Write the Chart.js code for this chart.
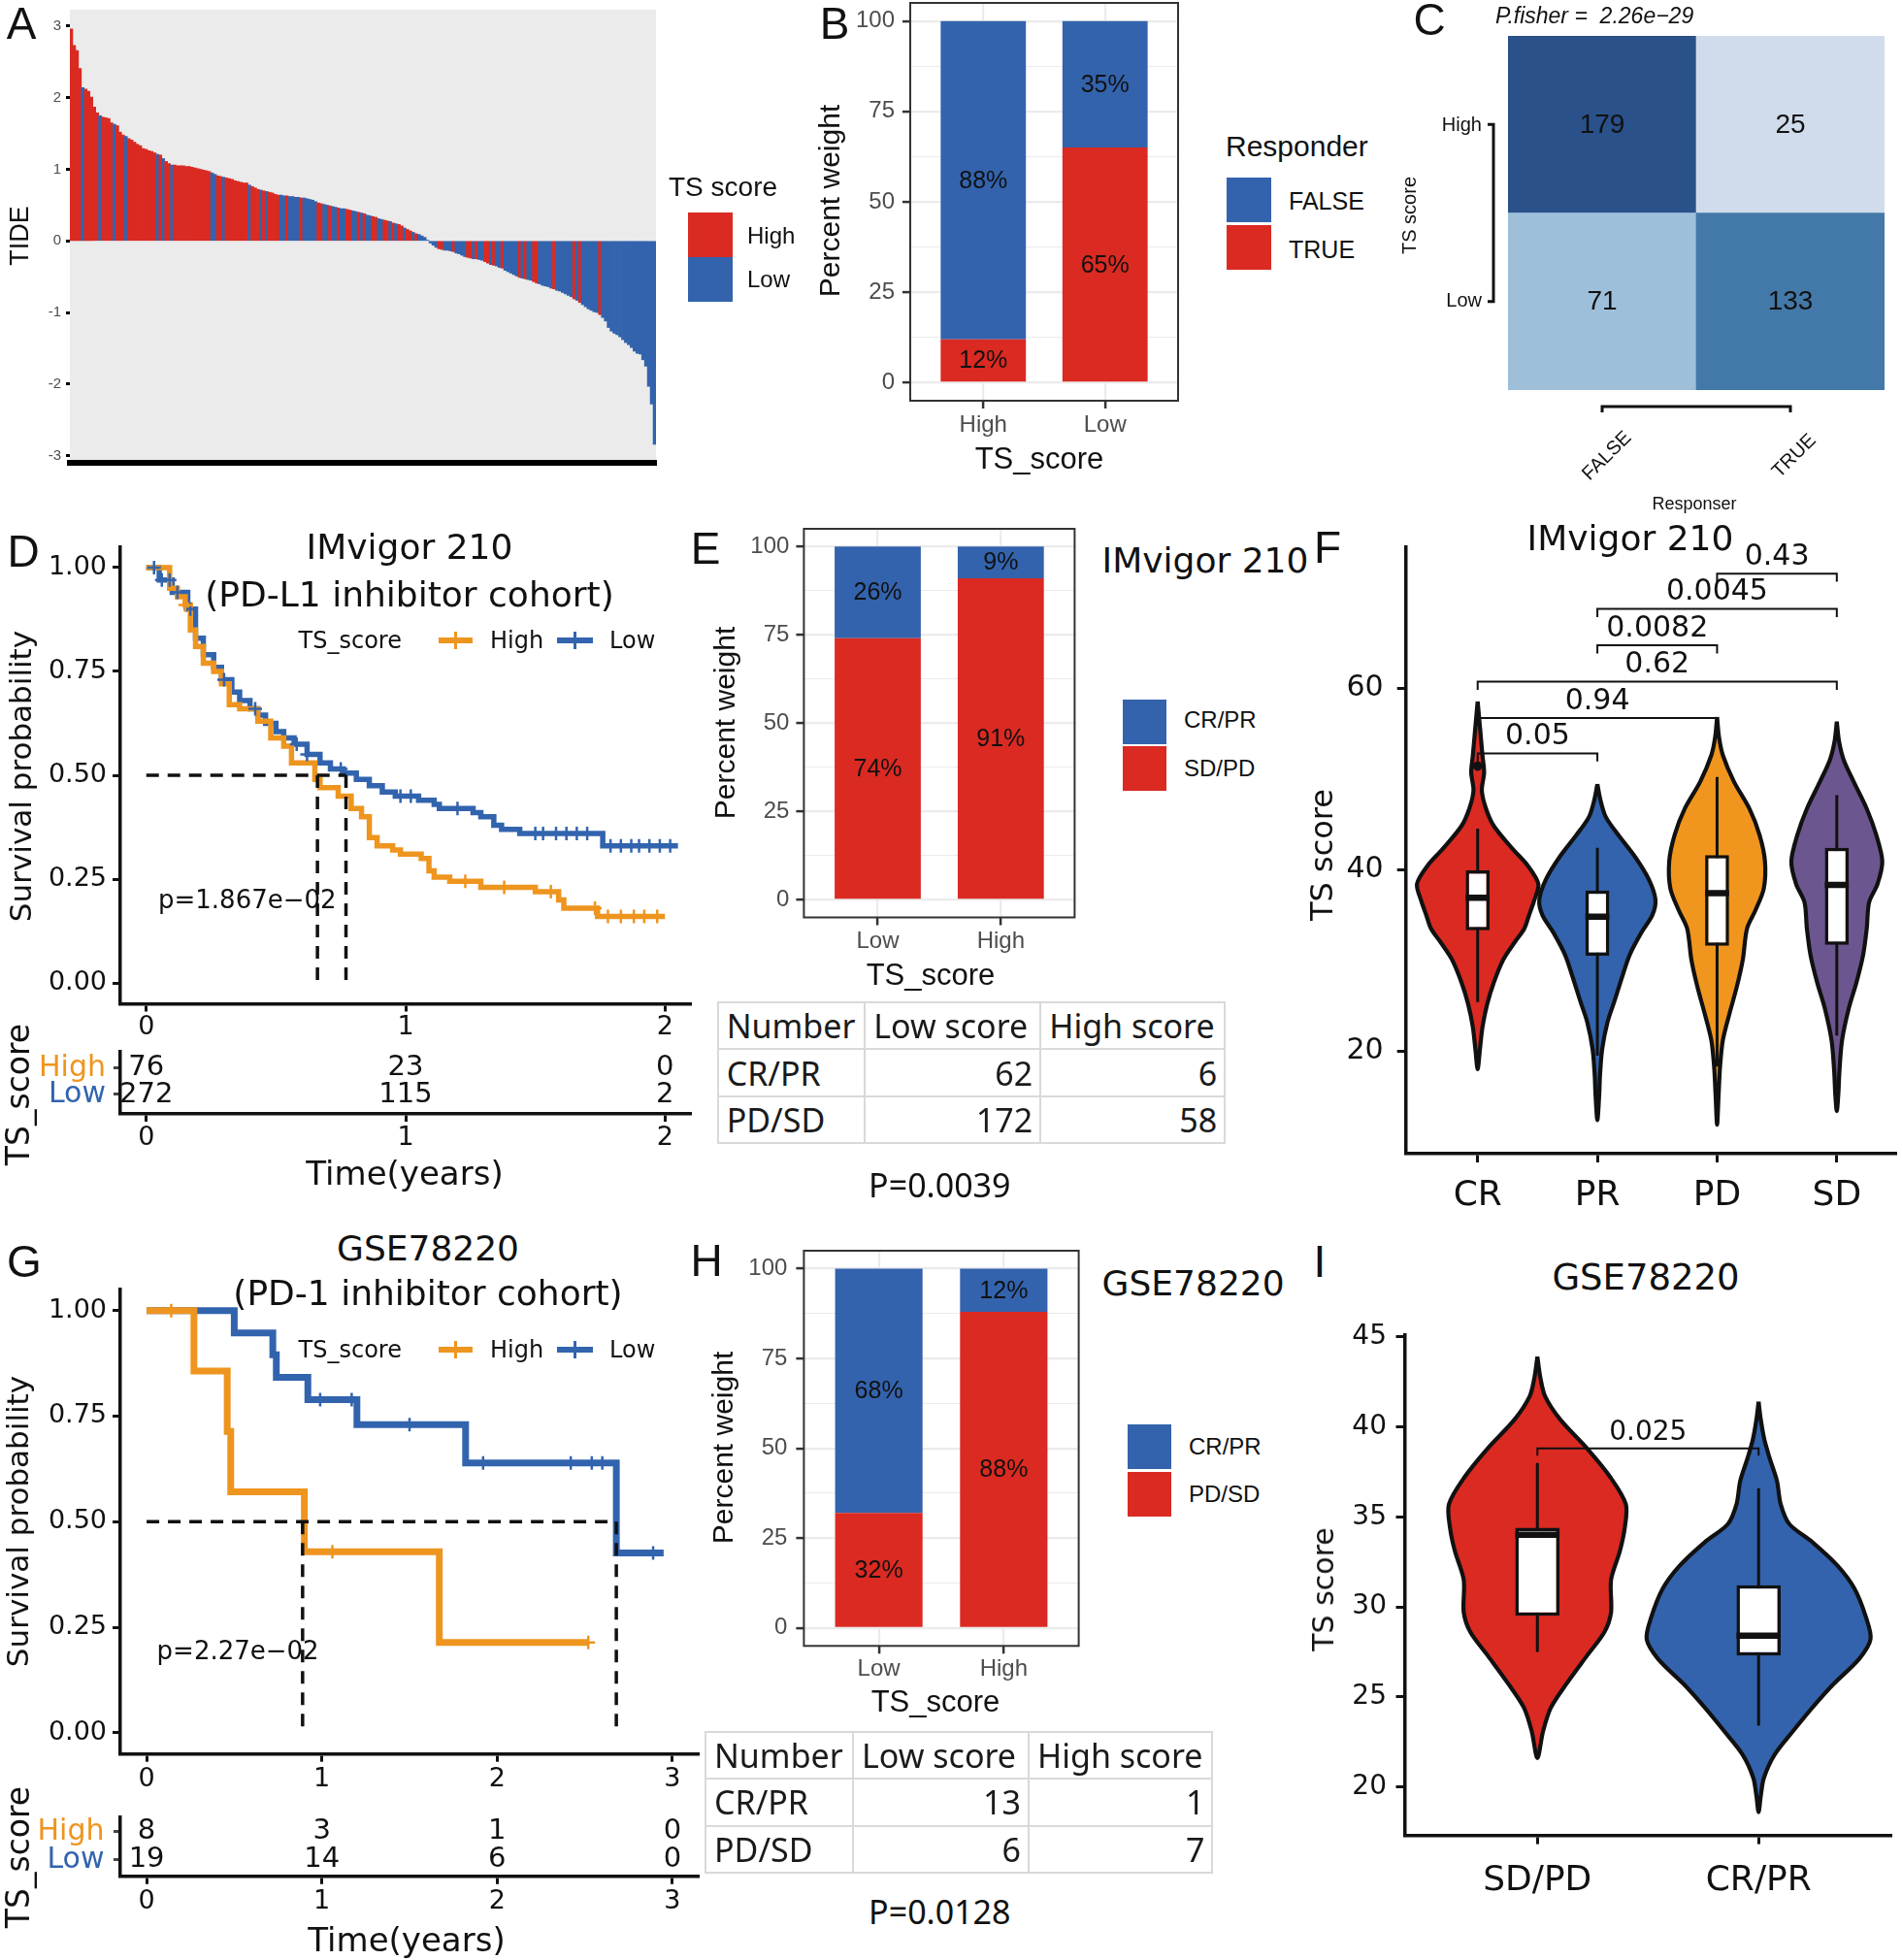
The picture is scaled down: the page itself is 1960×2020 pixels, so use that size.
<!DOCTYPE html>
<html>
<head>
<meta charset="utf-8">
<title>TS score figure</title>
<script src="https://cdn.jsdelivr.net/npm/chart.js@4.4.1/dist/chart.umd.min.js"></script>
<style>
  html, body { margin: 0; padding: 0; background: #fff; }
  #fig { position: relative; width: 1960px; height: 2020px; overflow: hidden; background: #fff; }
  #fig canvas { position: absolute; }
  .lbl { position: absolute; white-space: pre; line-height: 1; color: #111; }
  .sw { position: absolute; }
  table.tb { position: absolute; border-collapse: collapse; table-layout: fixed;
    font-family: "Noto Sans", "Liberation Sans", sans-serif; font-size: 34px; color: #1a1a1a; }
  table.tb td { border: 2px solid #d9d9d9; padding: 0 7px 0 8px; line-height: 1; white-space: nowrap;
    overflow: hidden; vertical-align: middle; }
</style>
</head>
<body>
<div id="fig"></div>
<script>
// ---------- A: TIDE waterfall, sorted samples ----------
const tideValues = [
  2.96, 2.73, 2.66, 2.41, 2.14, 2.12, 2.09, 2.01, 1.87, 1.79,
  1.75, 1.73, 1.72, 1.71, 1.65, 1.63, 1.61, 1.52, 1.48, 1.46,
  1.43, 1.41, 1.38, 1.35, 1.33, 1.29, 1.28, 1.26, 1.25, 1.23,
  1.21, 1.20, 1.15, 1.11, 1.08, 1.06, 1.06, 1.05, 1.05, 1.05,
  1.04, 1.04, 1.03, 1.02, 1.01, 1.00, 0.99, 0.98, 0.97, 0.95,
  0.93, 0.91, 0.90, 0.89, 0.88, 0.87, 0.86, 0.84, 0.83, 0.82,
  0.81, 0.81, 0.78, 0.76, 0.74, 0.72, 0.71, 0.70, 0.69, 0.68,
  0.67, 0.65, 0.64, 0.64, 0.63, 0.63, 0.62, 0.62, 0.61, 0.61,
  0.60, 0.60, 0.59, 0.58, 0.57, 0.55, 0.53, 0.52, 0.51, 0.50,
  0.49, 0.48, 0.47, 0.46, 0.45, 0.45, 0.44, 0.43, 0.42, 0.41,
  0.40, 0.39, 0.38, 0.36, 0.35, 0.34, 0.33, 0.31, 0.30, 0.29,
  0.28, 0.27, 0.25, 0.24, 0.23, 0.21, 0.18, 0.16, 0.14, 0.12,
  0.10, 0.09, 0.07, 0.05, 0.01, -0.03, -0.06, -0.09, -0.11, -0.12,
  -0.13, -0.13, -0.14, -0.15, -0.17, -0.18, -0.20, -0.22, -0.23, -0.24,
  -0.25, -0.25, -0.26, -0.27, -0.29, -0.31, -0.33, -0.34, -0.35, -0.37,
  -0.38, -0.41, -0.43, -0.45, -0.47, -0.49, -0.51, -0.52, -0.53, -0.54,
  -0.55, -0.57, -0.59, -0.60, -0.62, -0.63, -0.64, -0.66, -0.67, -0.69,
  -0.70, -0.72, -0.74, -0.76, -0.78, -0.81, -0.83, -0.86, -0.89, -0.92,
  -0.95, -0.97, -0.99, -1.00, -1.03, -1.07, -1.12, -1.21, -1.26, -1.29,
  -1.31, -1.34, -1.38, -1.42, -1.45, -1.49, -1.54, -1.57, -1.58, -1.66,
  -1.75, -2.03, -2.28, -2.84
];
// H = high TS score, L = low TS score, same order as tideValues
const tideGroups = Array.from(
  'HHHHLHHHHH' + 'LHHHHLHHHL' + 'HHHHHHHHHH' + 'LHLHHLHHHH' + 'HHHHHHHHHL' +
  'LHHLHHHHHH' + 'HHLHHHLHLH' + 'HHHLLHLLLL' + 'HLLLLLHHLL' + 'HLLHLLHHLL' +
  'HLHLLHHLLH' + 'HLHLHHLHHL' + 'HLLLLLLLHH' + 'LLLHLLLLHH' + 'LHLLHHLHLL' +
  'HLLLLLHLHL' + 'LHHLLLLLHL' + 'LLLLLHLHLL' + 'LLLLHLLLLL' + 'LLLLLLLLLL' + 'LLLL');
const tideTicks = [-3, -2, -1, 0, 1, 2, 3];

// ---------- B: responder share by TS score ----------
const bCats = ['High', 'Low'];
const bTrue = [12, 65];
const bFalse = [88, 35];

// ---------- C: contingency table ----------
const heatCols = ['FALSE', 'TRUE'];
const heatLow = [71, 133];
const heatHigh = [179, 25];

const pctTicks = [0, 12.5, 25, 37.5, 50, 62.5, 75, 87.5, 100];

// ---------- D: IMvigor 210 survival ----------
const kmDHighT = [0, 0.09, 0.12, 0.15, 0.17, 0.19, 0.22, 0.26, 0.29, 0.32, 0.36, 0.43, 0.48, 0.53, 0.56, 0.65, 0.67, 0.74, 0.79, 0.83, 0.86, 0.89, 0.95, 0.98, 1.06, 1.09, 1.11, 1.17, 1.29, 1.50, 1.59, 1.61, 1.74, 2.00];
const kmDHighS = [1.00, 0.95, 0.93, 0.91, 0.85, 0.81, 0.77, 0.75, 0.72, 0.67, 0.66, 0.63, 0.59, 0.57, 0.53, 0.49, 0.47, 0.45, 0.42, 0.40, 0.35, 0.33, 0.32, 0.31, 0.30, 0.27, 0.255, 0.245, 0.23, 0.22, 0.20, 0.18, 0.16, 0.16];
const kmDLowT = [0, 0.05, 0.10, 0.16, 0.19, 0.22, 0.26, 0.29, 0.33, 0.36, 0.40, 0.43, 0.46, 0.50, 0.53, 0.57, 0.62, 0.67, 0.71, 0.76, 0.81, 0.86, 0.91, 0.96, 1.05, 1.11, 1.13, 1.26, 1.29, 1.34, 1.37, 1.44, 1.76, 2.05];
const kmDLowS = [1.00, 0.97, 0.94, 0.90, 0.83, 0.79, 0.76, 0.73, 0.70, 0.68, 0.66, 0.645, 0.625, 0.605, 0.59, 0.575, 0.55, 0.53, 0.515, 0.505, 0.49, 0.475, 0.46, 0.45, 0.44, 0.43, 0.42, 0.41, 0.40, 0.38, 0.37, 0.36, 0.33, 0.33];
const censorDHigh = [0.15, 1.23, 1.38, 1.56, 1.73, 1.78, 1.83, 1.88, 1.92, 1.97];
const censorDLow = [0.03, 0.06, 0.09, 0.12, 0.17, 0.30, 0.42, 0.58, 0.62, 0.75, 0.98, 1.02, 1.20, 1.50, 1.53, 1.58, 1.62, 1.66, 1.70, 1.79, 1.83, 1.87, 1.90, 1.94, 1.98, 2.02];
const medianD = [0.66, 0.77];
const riskTimesD = [0, 1, 2];
const riskHighD = [76, 23, 0];
const riskLowD = [272, 115, 2];

// ---------- E: IMvigor 210 response ----------
const eCats = ['Low', 'High'];
const eSDPD = [74, 91];
const eCRPR = [26, 9];
const tableHead = ['Number', 'Low score', 'High score'];
const tableRows = ['CR/PR', 'PD/SD'];
const tabELow = [62, 172];
const tabEHigh = [6, 58];

// ---------- F: TS score by response ----------
const fCats = ['CR', 'PR', 'PD', 'SD'];
const violinCR = [[58.5, 0], [55.6, 0.02], [52.6, 0.04], [50.7, 0.054], [48.7, 0.035], [46.7, 0.07], [44.8, 0.135], [42.3, 0.29], [40.4, 0.42], [38.4, 0.507], [36.5, 0.47], [35.0, 0.43], [33.5, 0.39], [32.0, 0.31], [30.1, 0.215], [27.6, 0.136], [25.2, 0.08], [22.7, 0.041], [20.2, 0.019], [18.0, 0]];
const violinPR = [[49.4, 0], [47.7, 0.025], [45.8, 0.07], [43.8, 0.175], [41.3, 0.32], [38.9, 0.43], [36.7, 0.485], [35.0, 0.46], [33.0, 0.365], [30.6, 0.27], [28.1, 0.205], [25.6, 0.145], [23.2, 0.085], [20.2, 0.04], [17.3, 0.022], [15.3, 0.016], [12.4, 0]];
const violinPD = [[56.8, 0], [54.6, 0.016], [52.6, 0.048], [49.7, 0.14], [46.7, 0.27], [43.8, 0.355], [40.9, 0.40], [37.9, 0.39], [35.5, 0.32], [33.5, 0.25], [30.1, 0.215], [27.1, 0.165], [24.2, 0.105], [21.2, 0.048], [18.3, 0.025], [15.3, 0.013], [11.9, 0]];
const violinSD = [[56.3, 0], [54.1, 0.019], [52.1, 0.057], [49.7, 0.14], [46.7, 0.25], [43.8, 0.33], [40.9, 0.38], [38.4, 0.34], [36.4, 0.27], [33.5, 0.25], [30.6, 0.22], [27.6, 0.165], [24.7, 0.10], [21.2, 0.044], [17.8, 0.022], [15.3, 0.013], [13.4, 0]];
const fLo = [25.4, 19.5, 18.3, 21.7];
const fQ1 = [33.3, 30.5, 31.6, 31.7];
const fMed = [36.9, 34.8, 37.4, 38.3];
const fQ3 = [39.9, 37.7, 41.6, 42.4];
const fHi = [44.5, 42.4, 50.2, 48.2];
const fOutGroup = [1];
const fOutValue = [51.4];
const fSigA = [1, 1, 1, 2, 2, 3];
const fSigB = [2, 3, 4, 3, 4, 4];
const fSigY = [52.8, 56.7, 60.7, 64.7, 68.7, 72.6];
const fSigText = ['0.05', '0.94', '0.62', '0.0082', '0.0045', '0.43'];

// ---------- G: GSE78220 survival ----------
const kmGHighT = [0, 0.27, 0.46, 0.48, 0.90, 1.67, 2.52];
const kmGHighS = [1, 0.857, 0.714, 0.571, 0.429, 0.214, 0.214];
const kmGLowT = [0, 0.50, 0.72, 0.74, 0.92, 1.20, 1.82, 2.68, 2.95];
const kmGLowS = [1, 0.947, 0.895, 0.842, 0.789, 0.73, 0.639, 0.426, 0.426];
const censorGHigh = [0.14, 1.06, 2.52];
const censorGLow = [0.99, 1.17, 1.50, 1.92, 2.42, 2.54, 2.60, 2.89];
const medianG = [0.89, 2.68];
const riskTimesG = [0, 1, 2, 3];
const riskHighG = [8, 3, 1, 0];
const riskLowG = [19, 14, 6, 0];

// ---------- H: GSE78220 response ----------
const hCats = ['Low', 'High'];
const hPDSD = [32, 88];
const hCRPR = [68, 12];
const tabHLow = [13, 6];
const tabHHigh = [1, 7];

// ---------- I: GSE78220 TS score ----------
const iCats = ['SD/PD', 'CR/PR'];
const violinSDPD = [[43.9, 0], [42.7, 0.014], [41.7, 0.035], [40.4, 0.104], [38.8, 0.225], [37.2, 0.33], [35.7, 0.40], [34.4, 0.395], [33.1, 0.373], [31.5, 0.333], [29.7, 0.333], [28.6, 0.303], [27.3, 0.225], [25.7, 0.13], [24.4, 0.061], [23.1, 0.026], [21.6, 0]];
const violinCRPR = [[41.4, 0], [40.4, 0.01], [39.3, 0.026], [38.3, 0.049], [37.0, 0.083], [35.7, 0.10], [34.6, 0.139], [33.6, 0.243], [32.3, 0.356], [31.0, 0.434], [29.4, 0.486], [28.2, 0.506], [27.1, 0.454], [25.7, 0.338], [24.4, 0.243], [23.1, 0.156], [21.8, 0.073], [20.5, 0.024], [19.5, 0.01], [18.6, 0]];
const iLo = [27.5, 23.4];
const iQ1 = [29.5, 27.3];
const iMed = [34.0, 28.4];
const iQ3 = [34.4, 31.2];
const iHi = [38.0, 36.6];

// ---------- look ----------
const fig = document.getElementById('fig');
const ARIAL = '"Liberation Sans", Arial, Helvetica, sans-serif';
const DEJA = '"DejaVu Sans", Verdana, sans-serif';
const NOTO = '"Noto Sans", "Liberation Sans", sans-serif';
const RED = '#DA2A22', BLUE = '#3363AD';
const ORANGE = '#EE951F', KMBLUE = '#3264AE';
const VIOLIN_F = ['#DA2A22', '#3363AD', '#F0961E', '#6C568F'];
const HEAT_STOPS = [[25, [208, 220, 235]], [71, [158, 191, 218]], [133, [67, 121, 168]], [179, [42, 81, 137]]];
const survTicks = [0, 0.25, 0.5, 0.75, 1];

Chart.defaults.font.family = ARIAL;
Chart.defaults.color = '#111';

function blueRamp(n) {
  const s = HEAT_STOPS;
  if (n <= s[0][0]) return 'rgb(' + s[0][1].join(',') + ')';
  for (let i = 1; i < s.length; i++) {
    if (n <= s[i][0]) {
      const f = (n - s[i - 1][0]) / (s[i][0] - s[i - 1][0]);
      return 'rgb(' + s[i - 1][1].map((v, k) => Math.round(v + (s[i][1][k] - v) * f)).join(',') + ')';
    }
  }
  return 'rgb(' + s[s.length - 1][1].join(',') + ')';
}

function mkCanvas(x, y, w, h) {
  const c = document.createElement('canvas');
  c.width = w; c.height = h;
  Object.assign(c.style, { left: x + 'px', top: y + 'px', width: w + 'px', height: h + 'px' });
  fig.appendChild(c);
  return c;
}

function txt(s, x, y, size, o) {
  o = o || {};
  const d = document.createElement('div');
  d.className = 'lbl';
  d.textContent = s;
  d.style.left = x + 'px';
  d.style.top = y + 'px';
  d.style.fontSize = size + 'px';
  d.style.fontFamily = o.font || ARIAL;
  if (o.italic) d.style.fontStyle = 'italic';
  if (o.color) d.style.color = o.color;
  const tx = o.align === 'left' ? '0' : o.align === 'right' ? '-100%' : '-50%';
  d.style.transform = 'translate(' + tx + ',-50%)' + (o.rot ? ' rotate(' + o.rot + 'deg)' : '');
  fig.appendChild(d);
}

function sw(x, y, w, h, color) {
  const d = document.createElement('div');
  d.className = 'sw';
  Object.assign(d.style, { left: x + 'px', top: y + 'px', width: w + 'px', height: h + 'px', background: color });
  fig.appendChild(d);
}

function kmKey(x1, x2, y, color) {
  sw(x1, y - 3, x2 - x1, 6, color);
  sw((x1 + x2) / 2 - 1.25, y - 9, 2.5, 18, color);
}

function numTable(x, y, widths, rowH, names, colA, colB) {
  const t = document.createElement('table');
  t.className = 'tb';
  t.style.left = x + 'px';
  t.style.top = y + 'px';
  t.style.width = widths.reduce((p, q) => p + q, 0) + 'px';
  const cg = document.createElement('colgroup');
  widths.forEach(w => { const col = document.createElement('col'); col.style.width = w + 'px'; cg.appendChild(col); });
  t.appendChild(cg);
  const body = t.createTBody();
  const row = (cells, numeric) => {
    const tr = body.insertRow();
    tr.style.height = rowH + 'px';
    cells.forEach((v, i) => {
      const td = tr.insertCell();
      td.textContent = v;
      td.style.textAlign = numeric && i > 0 ? 'right' : 'left';
    });
  };
  row(tableHead, false);
  names.forEach((n, i) => row([n, colA[i], colB[i]], true));
  fig.appendChild(t);
}

// fix the axis box size and drop the label overhang padding, so the plot area is exactly where asked
const fitTo = size => s => {
  if (s.isHorizontal()) s.height = size; else s.width = size;
  s.paddingTop = 0; s.paddingBottom = 0; s.paddingLeft = 0; s.paddingRight = 0;
};
const setTicks = vals => s => { s.ticks = vals.map(v => ({ value: v })); };
const common = { responsive: false, maintainAspectRatio: false, animation: false, devicePixelRatio: 1, events: [] };
const quiet = { legend: { display: false }, tooltip: { enabled: false } };

function survAt(ts, ss, t) {
  let v = ss[0];
  ts.forEach((x, i) => { if (x <= t) v = ss[i]; });
  return v;
}

function lineAxis(o) {
  return {
    type: 'linear', min: o.min, max: o.max, offset: false,
    afterBuildTicks: setTicks(o.ticks), afterFit: fitTo(o.fit),
    ticks: { callback: o.fmt || (v => String(v)), font: { size: o.size, family: o.family || DEJA },
      color: o.color || '#111', padding: o.pad, autoSkip: false, maxRotation: 0 },
    grid: { offset: false, drawOnChartArea: false, tickLength: o.tl || 8, tickWidth: 3, tickColor: o.tc || '#111' },
    border: { color: '#111', width: 3.5 }
  };
}

const frame = {
  id: 'frame',
  afterDatasetsDraw(c) {
    const ctx = c.ctx, a = c.chartArea;
    ctx.save();
    ctx.strokeStyle = '#333';
    ctx.lineWidth = 2;
    ctx.strokeRect(a.left, a.top, a.right - a.left, a.bottom - a.top);
    ctx.restore();
  }
};

function barText(size) {
  return {
    id: 'barText',
    afterDatasetsDraw(c) {
      const ctx = c.ctx;
      ctx.save();
      ctx.font = size + 'px ' + ARIAL;
      ctx.fillStyle = '#111';
      ctx.textAlign = 'center';
      ctx.textBaseline = 'middle';
      c.data.datasets.forEach((ds, i) => {
        c.getDatasetMeta(i).data.forEach((el, j) => {
          const p = el.getProps(['x', 'y', 'base'], true);
          ctx.fillText(ds.tags[j], p.x, (p.y + p.base) / 2 + 1);
        });
      });
      ctx.restore();
    }
  };
}

// ---------- chart builders ----------
function pctChart(box, cats, layers, o) {
  return new Chart(mkCanvas(...box), {
    type: 'bar',
    data: {
      datasets: layers.map(l => ({
        data: l.values.map((v, i) => ({ x: i + 1, y: v })),
        tags: l.values.map(v => v + '%'),
        backgroundColor: l.color, borderWidth: 0, barPercentage: 1, categoryPercentage: 0.7
      }))
    },
    options: {
      ...common, layout: { padding: o.pad }, plugins: quiet,
      scales: {
        x: {
          type: 'linear', min: 0.4, max: 2.6, offset: false, stacked: true,
          afterBuildTicks: setTicks(cats.map((c, i) => i + 1)), afterFit: fitTo(o.xH),
          ticks: { callback: v => cats[v - 1], color: '#4D4D4D', font: { size: 24 }, padding: o.xPad, autoSkip: false, maxRotation: 0 },
          grid: { offset: false, color: '#EBEBEB', lineWidth: 2.2, tickLength: 8, tickWidth: 2.5, tickColor: '#333' },
          border: { display: false }
        },
        y: {
          min: -5, max: 105, stacked: true,
          afterBuildTicks: setTicks(pctTicks), afterFit: fitTo(o.yW),
          ticks: { callback: v => (v % 25 ? '' : String(v)), color: '#4D4D4D', font: { size: 24 }, padding: o.yPad },
          grid: {
            color: '#EBEBEB',
            lineWidth: c => (c.tick && c.tick.value % 25 ? 1.1 : 2.2),
            tickColor: c => (c.tick && c.tick.value % 25 ? 'rgba(0,0,0,0)' : '#333'),
            tickLength: 8, tickWidth: 2.5
          },
          border: { display: false }
        }
      }
    },
    plugins: [frame, barText(25)]
  });
}

function kmPanel(o) {
  const ds = [];
  o.curves.forEach(cu => {
    ds.push({ data: cu.t.map((t, i) => ({ x: t, y: cu.s[i] })), showLine: true, stepped: true,
      borderColor: cu.color, borderWidth: o.lw, borderJoinStyle: 'miter', pointRadius: 0, order: 3 });
    ds.push({ data: cu.censor.map(t => ({ x: t, y: survAt(cu.t, cu.s, t) })), showLine: false,
      pointStyle: 'cross', pointRadius: o.cross, borderColor: cu.color, borderWidth: 2.5, order: 2 });
  });
  const dash = { showLine: true, borderColor: '#111', borderWidth: 3.5, borderDash: [13, 9], pointRadius: 0, order: 1 };
  ds.push({ ...dash, data: [{ x: 0, y: 0.5 }, { x: Math.max(...o.medians), y: 0.5 }] });
  o.medians.forEach(m => ds.push({ ...dash, data: [{ x: m, y: 0.5 }, { x: m, y: 0 }] }));
  return new Chart(mkCanvas(...o.box), {
    type: 'scatter',
    data: { datasets: ds },
    options: {
      ...common, layout: { padding: o.pad }, plugins: quiet,
      scales: {
        x: lineAxis({ min: o.xr[0], max: o.xr[1], ticks: o.xt, fit: o.xH, size: 27, pad: o.xPad }),
        y: lineAxis({ min: -0.05, max: 1.05, ticks: survTicks, fit: o.yW, size: 27, pad: 6, fmt: v => v.toFixed(2) })
      }
    }
  });
}

function riskPanel(o) {
  const nums = {
    id: 'riskNums',
    afterDraw(c) {
      const ctx = c.ctx, xs = c.scales.x, ys = c.scales.y;
      ctx.save();
      ctx.font = '29px ' + DEJA;
      ctx.fillStyle = '#111';
      ctx.textAlign = 'center';
      ctx.textBaseline = 'middle';
      o.times.forEach((t, i) => {
        ctx.fillText(String(o.high[i]), xs.getPixelForValue(t), ys.getPixelForValue(2));
        ctx.fillText(String(o.low[i]), xs.getPixelForValue(t), ys.getPixelForValue(1));
      });
      ctx.restore();
    }
  };
  return new Chart(mkCanvas(...o.box), {
    type: 'scatter',
    data: { datasets: [] },
    options: {
      ...common, layout: { padding: o.pad }, plugins: quiet,
      scales: {
        x: lineAxis({ min: o.xr[0], max: o.xr[1], ticks: o.times, fit: o.xH, size: 27, pad: o.xPad }),
        y: lineAxis({ min: o.yr[0], max: o.yr[1], ticks: [1, 2], fit: o.yW, size: 30, pad: o.yPad, tl: 7, tc: '#444',
          fmt: v => (v === 2 ? 'High' : 'Low'),
          color: c => (c.tick && c.tick.value === 2 ? ORANGE : KMBLUE) })
      }
    },
    plugins: [nums]
  });
}

function violinPanel(o) {
  const ds = [];
  o.shapes.forEach((sh, g) => {
    const cx = g + 1;
    const right = sh.map(p => ({ x: cx + p[1], y: p[0] }));
    const left = sh.slice().reverse().map(p => ({ x: cx - p[1], y: p[0] }));
    ds.push({ data: right.concat(left.slice(1)), showLine: true, fill: 'shape', tension: 0.3,
      backgroundColor: o.colors[g], borderColor: '#111', borderWidth: 4.2, pointRadius: 0, order: 6 });
    ds.push({ data: [{ x: cx, y: o.lo[g] }, { x: cx, y: o.hi[g] }], showLine: true,
      borderColor: '#111', borderWidth: 3, pointRadius: 0, order: 5 });
    ds.push({ data: [{ x: cx - 0.1, y: o.med[g] }, { x: cx + 0.1, y: o.med[g] }], showLine: true,
      borderColor: '#111', borderWidth: 6.5, pointRadius: 0, order: 3 });
  });
  ds.push({ type: 'bar', data: o.q1.map((q, g) => ({ x: g + 1, y: [q, o.q3[g]] })),
    backgroundColor: '#fff', borderColor: '#111', borderWidth: 3.5, borderSkipped: false,
    barPercentage: 1, categoryPercentage: 0.2, order: 4 });
  if (o.out) ds.push({ data: o.out, pointRadius: 4.5, backgroundColor: '#111', borderColor: '#111', order: 2 });
  o.sig.a.forEach((a, k) => {
    const b = o.sig.b[k], y = o.sig.y[k];
    ds.push({ data: [{ x: a, y: y - o.sig.drop }, { x: a, y: y }, { x: b, y: y }, { x: b, y: y - o.sig.drop }],
      showLine: true, borderColor: '#111', borderWidth: 2, pointRadius: 0, order: 0 });
  });
  const sigText = {
    id: 'sigText',
    afterDatasetsDraw(c) {
      const ctx = c.ctx, xs = c.scales.x, ys = c.scales.y;
      ctx.save();
      ctx.font = o.sig.size + 'px ' + DEJA;
      ctx.fillStyle = '#111';
      ctx.textAlign = 'center';
      ctx.textBaseline = 'bottom';
      o.sig.text.forEach((s, k) => {
        const x = (xs.getPixelForValue(o.sig.a[k]) + xs.getPixelForValue(o.sig.b[k])) / 2;
        ctx.fillText(s, x, ys.getPixelForValue(o.sig.y[k]) - 2);
      });
      ctx.restore();
    }
  };
  return new Chart(mkCanvas(...o.box), {
    type: 'scatter',
    data: { datasets: ds },
    options: {
      ...common, layout: { padding: o.pad }, plugins: quiet,
      scales: {
        x: lineAxis({ min: 0.4, max: o.xMax, ticks: o.cats.map((c, i) => i + 1), fit: o.xH, size: 36, pad: o.xPad, tl: 9,
          fmt: v => o.cats[v - 1] }),
        y: lineAxis({ min: o.yr[0], max: o.yr[1], ticks: o.yt, fit: o.yW, size: o.ySize, pad: o.yPad, tl: 9 })
      }
    },
    plugins: [sigText]
  });
}

// ---------- A ----------
const panelGrey = {
  id: 'panelGrey',
  beforeDraw(c) {
    const ctx = c.ctx, a = c.chartArea;
    ctx.save();
    ctx.fillStyle = '#EBEBEB';
    ctx.fillRect(a.left, a.top, a.right - a.left, a.bottom - a.top);
    ctx.restore();
  }
};
new Chart(mkCanvas(0, 0, 690, 490), {
  type: 'bar',
  data: {
    labels: tideValues.map((v, i) => i + 1),
    datasets: [{ data: tideValues, backgroundColor: tideGroups.map(g => (g === 'H' ? RED : BLUE)),
      borderWidth: 0, barPercentage: 1, categoryPercentage: 1 }]
  },
  options: {
    ...common, layout: { padding: { top: 10, right: 14 } }, plugins: quiet,
    scales: {
      x: { ticks: { display: false }, grid: { display: true, drawOnChartArea: false, drawTicks: false },
        border: { color: '#000', width: 6 }, afterFit: fitTo(13) },
      y: { min: -3.1, max: 3.23, afterBuildTicks: setTicks(tideTicks), afterFit: fitTo(72),
        ticks: { font: { size: 15 }, color: '#4D4D4D', padding: 5 },
        grid: { drawOnChartArea: false, tickLength: 4, tickWidth: 3, tickColor: '#000' },
        border: { display: false } }
    }
  },
  plugins: [panelGrey]
});
txt('A', 22, 24, 46);
txt('TIDE', 20, 243, 27, { rot: -90 });
txt('TS score', 689, 193, 28, { align: 'left' });
sw(709, 219, 46, 46, RED);
sw(709, 265, 46, 46, BLUE);
txt('High', 770, 243, 24, { align: 'left' });
txt('Low', 770, 288, 24, { align: 'left' });

// ---------- B ----------
pctChart([840, 0, 390, 490], bCats,
  [{ values: bTrue, color: RED }, { values: bFalse, color: BLUE }],
  { pad: { top: 3, right: 16 }, yW: 98, xH: 77, xPad: 3, yPad: 8 });
txt('B', 860, 24, 46);
txt('Percent weight', 855, 207, 30, { rot: -90 });
txt('TS_score', 1071, 472, 31);
txt('Responder', 1263, 151, 30, { align: 'left' });
sw(1264, 183, 46, 46, BLUE);
sw(1264, 232, 46, 46, RED);
txt('FALSE', 1328, 207, 25, { align: 'left' });
txt('TRUE', 1328, 257, 25, { align: 'left' });

// ---------- C ----------
const heatBrackets = {
  id: 'heatBrackets',
  afterDraw(c) {
    const ctx = c.ctx, a = c.chartArea, xs = c.scales.x, ys = c.scales.y;
    ctx.save();
    ctx.strokeStyle = '#111';
    ctx.lineWidth = 3;
    const bx = a.left - 15, y1 = ys.getPixelForValue(1.5), y2 = ys.getPixelForValue(0.5);
    ctx.beginPath();
    ctx.moveTo(bx - 6, y1); ctx.lineTo(bx, y1); ctx.lineTo(bx, y2); ctx.lineTo(bx - 6, y2);
    ctx.stroke();
    const by = a.bottom + 17, x1 = xs.getPixelForValue(0), x2 = xs.getPixelForValue(1);
    ctx.beginPath();
    ctx.moveTo(x1, by + 6); ctx.lineTo(x1, by); ctx.lineTo(x2, by); ctx.lineTo(x2, by + 6);
    ctx.stroke();
    ctx.restore();
  }
};
new Chart(mkCanvas(1440, 0, 520, 540), {
  type: 'bar',
  data: {
    labels: heatCols,
    datasets: [heatLow, heatHigh].map((counts, r) => ({
      data: counts.map(() => [r, r + 1]),
      tags: counts.map(String),
      backgroundColor: counts.map(blueRamp), borderWidth: 0, barPercentage: 1, categoryPercentage: 1
    }))
  },
  options: {
    ...common, layout: { padding: { left: 114, right: 18, top: 37, bottom: 138 } }, plugins: quiet,
    scales: { x: { display: false, stacked: true }, y: { display: false, min: 0, max: 2 } }
  },
  plugins: [barText(28), heatBrackets]
});
txt('C', 1473, 20, 46);
txt('P.fisher =  2.26e\u221229', 1541, 15.5, 23, { align: 'left', italic: true });
txt('TS score', 1452, 222, 20, { rot: -90 });
txt('High', 1527, 128, 20, { align: 'right' });
txt('Low', 1527, 309, 20, { align: 'right' });
txt('FALSE', 1655, 469, 20, { rot: -45 });
txt('TRUE', 1848, 469, 20, { rot: -45 });
txt('Responser', 1746, 519, 18);

// ---------- D ----------
kmPanel({
  box: [0, 540, 730, 540], pad: { top: 23.5, right: 18 }, yW: 124, xH: 45.5, xPad: 0,
  xr: [-0.1, 2.1], xt: riskTimesD, lw: 5.5, cross: 7, medians: medianD,
  curves: [
    { t: kmDHighT, s: kmDHighS, censor: censorDHigh, color: ORANGE },
    { t: kmDLowT, s: kmDLowS, censor: censorDLow, color: KMBLUE }
  ]
});
riskPanel({
  box: [0, 1080, 730, 112], pad: { top: 3.6, right: 18 }, yW: 124, xH: 44, xPad: 1, yPad: 8,
  xr: [-0.1, 2.1], yr: [0.26, 2.64], times: riskTimesD, high: riskHighD, low: riskLowD
});
txt('D', 24, 568, 46);
txt('IMvigor 210', 422, 563.5, 36, { font: DEJA });
txt('(PD-L1 inhibitor cohort)', 422, 612.6, 36, { font: DEJA });
txt('Survival probability', 20.7, 800, 31, { font: DEJA, rot: -90 });
txt('TS_score', 307.6, 659.5, 24, { font: DEJA, align: 'left' });
kmKey(452, 487, 659.5, ORANGE);
txt('High', 505, 659.5, 24, { font: DEJA, align: 'left' });
kmKey(574, 611, 659.5, KMBLUE);
txt('Low', 628, 659.5, 24, { font: DEJA, align: 'left' });
txt('p=1.867e\u221202', 163, 927, 26, { font: DEJA, align: 'left' });
txt('TS_score', 18, 1128, 33, { font: DEJA, rot: -90 });
txt('Time(years)', 417, 1208.6, 34, { font: DEJA });

// ---------- E ----------
pctChart([700, 530, 420, 470], eCats,
  [{ values: eSDPD, color: RED }, { values: eCRPR, color: BLUE }],
  { pad: { top: 15, right: 12.6 }, yW: 128.4, xH: 54.5, xPad: 2, yPad: 7 });
txt('E', 727, 565, 46);
txt('Percent weight', 747, 745, 30, { rot: -90 });
txt('TS_score', 959, 1004, 31);
txt('IMvigor 210', 1135.6, 578, 36, { font: DEJA, align: 'left' });
sw(1157, 720.5, 45, 46, BLUE);
sw(1157, 768.7, 45, 46, RED);
txt('CR/PR', 1220, 742, 24, { align: 'left' });
txt('SD/PD', 1220, 791.7, 24, { align: 'left' });
numTable(738.7, 1031.8, [151.5, 181, 190], 48.5, tableRows, tabELow, tabEHigh);
txt('P=0.0039', 968.3, 1221, 34, { font: NOTO });

// ---------- F ----------
violinPanel({
  box: [1340, 540, 620, 720], pad: { top: 24, right: 0 }, yW: 108.7, xH: 71, xPad: 13, yPad: 14,
  xMax: 4.5, yr: [8.7, 75.5], yt: [20, 40, 60], ySize: 30, cats: fCats, colors: VIOLIN_F,
  shapes: [violinCR, violinPR, violinPD, violinSD],
  lo: fLo, q1: fQ1, med: fMed, q3: fQ3, hi: fHi,
  out: fOutGroup.map((g, i) => ({ x: g, y: fOutValue[i] })),
  sig: { a: fSigA, b: fSigB, y: fSigY, text: fSigText, drop: 0.9, size: 30 }
});
txt('F', 1368, 564, 46);
txt('IMvigor 210', 1680, 555, 36, { font: DEJA });
txt('TS score', 1362, 881, 32, { font: DEJA, rot: -90 });

// ---------- G ----------
kmPanel({
  box: [0, 1310, 730, 540], pad: { top: 18.9, right: 10 }, yW: 124, xH: 42.3, xPad: 2.5,
  xr: [-0.15, 3.15], xt: riskTimesG, lw: 7, cross: 7, medians: medianG,
  curves: [
    { t: kmGHighT, s: kmGHighS, censor: censorGHigh, color: ORANGE },
    { t: kmGLowT, s: kmGLowS, censor: censorGLow, color: KMBLUE }
  ]
});
riskPanel({
  box: [0, 1850, 730, 130], pad: { top: 23, right: 10 }, yW: 124, xH: 46.2, xPad: 2.4, yPad: 9.5,
  xr: [-0.15, 3.15], yr: [0.417, 2.507], times: riskTimesG, high: riskHighG, low: riskLowG
});
txt('G', 25, 1300, 46);
txt('GSE78220', 441, 1286.7, 36, { font: DEJA });
txt('(PD-1 inhibitor cohort)', 441, 1332.7, 36, { font: DEJA });
txt('Survival probability', 18.4, 1568, 31, { font: DEJA, rot: -90 });
txt('TS_score', 307.6, 1391, 24, { font: DEJA, align: 'left' });
kmKey(452, 487, 1391, ORANGE);
txt('High', 505, 1391, 24, { font: DEJA, align: 'left' });
kmKey(574, 611, 1391, KMBLUE);
txt('Low', 628, 1391, 24, { font: DEJA, align: 'left' });
txt('p=2.27e\u221202', 161.6, 1701, 26, { font: DEJA, align: 'left' });
txt('TS_score', 18.4, 1914, 33, { font: DEJA, rot: -90 });
txt('Time(years)', 419, 1999, 34, { font: DEJA });

// ---------- H ----------
pctChart([700, 1270, 420, 470], hCats,
  [{ values: hPDSD, color: RED }, { values: hCRPR, color: BLUE }],
  { pad: { top: 19, right: 8.4 }, yW: 128.4, xH: 43.7, xPad: 2, yPad: 9 });
txt('H', 728, 1299, 46);
txt('Percent weight', 745, 1491.5, 30, { rot: -90 });
txt('TS_score', 964, 1753, 31);
txt('GSE78220', 1135.6, 1323, 36, { font: DEJA, align: 'left' });
sw(1162, 1467.5, 45, 46, BLUE);
sw(1162, 1517, 45, 46, RED);
txt('CR/PR', 1225, 1490.7, 24, { align: 'left' });
txt('PD/SD', 1225, 1539.7, 24, { align: 'left' });
numTable(726, 1783.5, [152, 181, 189.4], 48.5, tableRows, tabHLow, tabHHigh);
txt('P=0.0128', 968.3, 1970, 34, { font: NOTO });

// ---------- I ----------
violinPanel({
  box: [1340, 1360, 620, 640], pad: { top: 16, right: 11 }, yW: 107.5, xH: 108.4, xPad: 16, yPad: 9.5,
  xMax: 2.6, yr: [17.3, 45.1], yt: [20, 25, 30, 35, 40, 45], ySize: 28, cats: iCats, colors: [RED, BLUE],
  shapes: [violinSDPD, violinCRPR],
  lo: iLo, q1: iQ1, med: iMed, q3: iQ3, hi: iHi,
  sig: { a: [1], b: [2], y: [38.8], text: ['0.025'], drop: 0.4, size: 28 }
});
txt('I', 1360, 1300, 46);
txt('GSE78220', 1696, 1315.7, 37, { font: DEJA });
txt('TS score', 1363.7, 1638, 30, { font: DEJA, rot: -90 });
</script>
</body>
</html>
